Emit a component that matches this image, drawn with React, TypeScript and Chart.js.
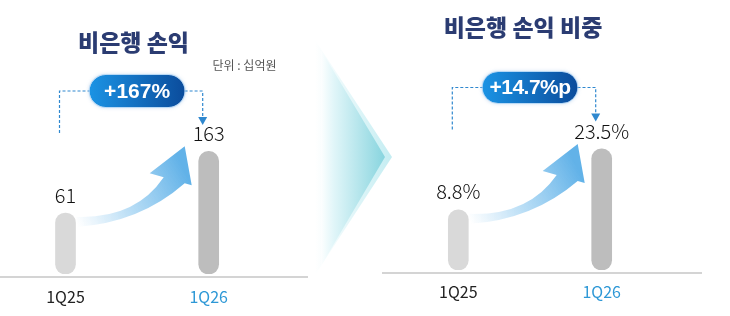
import React, { useEffect, useRef } from 'react';
import { Chart, registerables } from 'chart.js';

Chart.register(...registerables);

// ---- data ----
const quarters = ['1Q25', '1Q26'];
const profitValues = [61, 163];
const profitValueLabels = ['61', '163'];
const shareValues = [8.8, 23.5];
const shareValueLabels = ['8.8%', '23.5%'];
const profitTitle = '비은행 손익';
const shareTitle = '비은행 손익 비중';
const unitText = '단위 : 십억원';
const profitChange = '+167%';
const shareChange = '+14.7%p';

const KR = '"Noto Sans CJK KR", "Noto Sans", sans-serif';

type PanelSpec = {
  labels: string[];
  values: number[];
  valueLabels: string[];
  title: string;
  unit?: string;
  change: string;
  canvasLeft: number;
  canvasWidth: number;
  padding: { left: number; right: number; top: number; bottom: number };
  axisHeight: number;
  yMin: number;
  yMax: number;
  tickPadding: number;
  titlePos: [number, number];
  unitPos?: [number, number];
  badgeY: number;
  badgeW: number;
  badgeH: number;
  badgeFont: number;
  badgeSpacing: number;
  baseline: { x0: number; x1: number; y: number };
};

function roundRect(ctx: CanvasRenderingContext2D, x: number, y: number, w: number, h: number, r: number) {
  ctx.beginPath();
  ctx.moveTo(x + r, y);
  ctx.lineTo(x + w - r, y);
  ctx.arc(x + w - r, y + r, r, -Math.PI / 2, Math.PI / 2);
  ctx.lineTo(x + r, y + h);
  ctx.arc(x + r, y + r, r, Math.PI / 2, (3 * Math.PI) / 2);
  ctx.closePath();
}

function makePlugin(spec: PanelSpec) {
  return {
    id: 'decor',
    afterDatasetsDraw(chart: any) {
      const ctx: CanvasRenderingContext2D = chart.ctx;
      const off = spec.canvasLeft;
      const meta = chart.getDatasetMeta(0);
      const b1 = meta.data[0];
      const b2 = meta.data[1];
      const c1 = b1.x, t1 = b1.y, c2 = b2.x, t2 = b2.y;

      ctx.save();
      // baseline
      ctx.strokeStyle = '#c6c6c6';
      ctx.lineWidth = 1.5;
      ctx.beginPath();
      ctx.moveTo(spec.baseline.x0 - off, spec.baseline.y);
      ctx.lineTo(spec.baseline.x1 - off, spec.baseline.y);
      ctx.stroke();

      // curved gradient arrow
      const grad = ctx.createLinearGradient(c1 + 11, t1 + 10, c2 - 24, t2 + 20);
      grad.addColorStop(0, 'rgba(120,190,236,0)');
      grad.addColorStop(0.45, 'rgba(115,188,236,0.5)');
      grad.addColorStop(1, 'rgba(98,178,232,1)');
      ctx.fillStyle = grad;
      ctx.beginPath();
      ctx.moveTo(c1 + 11, t1 + 4);
      ctx.quadraticCurveTo(c1 + 70, t1 + 6, c2 - 45, t2 + 26);
      ctx.lineTo(c2 - 59, t2 + 22);
      ctx.lineTo(c2 - 24, t2 - 5);
      ctx.lineTo(c2 - 17, t2 + 34);
      ctx.lineTo(c2 - 24, t2 + 32);
      ctx.quadraticCurveTo(c1 + 74, t1 + 10, c1 + 11, t1 + 14);
      ctx.closePath();
      ctx.fill();

      // value labels
      ctx.fillStyle = '#111111';
      ctx.font = `300 20px ${KR}`;
      ctx.textAlign = 'center';
      ctx.textBaseline = 'middle';
      meta.data.forEach((b: any, i: number) => {
        ctx.fillText(spec.valueLabels[i], b.x, b.y - 18);
      });

      // title
      ctx.fillStyle = '#2b3c72';
      ctx.font = `900 23px ${KR}`;
      ctx.fillText(spec.title, spec.titlePos[0] - off, spec.titlePos[1]);

      // unit
      if (spec.unit && spec.unitPos) {
        ctx.fillStyle = '#555555';
        ctx.font = `400 12px ${KR}`;
        ctx.fillText(spec.unit, spec.unitPos[0] - off, spec.unitPos[1]);
      }

      // dashed connectors
      const bx = (c1 + c2) / 2;
      const by = spec.badgeY;
      const bl = bx - spec.badgeW / 2;
      const br = bx + spec.badgeW / 2;
      const x1 = c1 - 6;
      const x2 = c2 - 6;
      const tip = by + 34;
      ctx.strokeStyle = '#2f88cf';
      ctx.lineWidth = 1.2;
      ctx.setLineDash([3, 2]);
      ctx.beginPath();
      ctx.moveTo(x1, by + 42);
      ctx.lineTo(x1, by);
      ctx.lineTo(bl, by);
      ctx.moveTo(br, by);
      ctx.lineTo(x2, by);
      ctx.lineTo(x2, tip - 7);
      ctx.stroke();
      ctx.setLineDash([]);
      ctx.fillStyle = '#2f88cf';
      ctx.beginPath();
      ctx.moveTo(x2 - 4.5, tip - 8);
      ctx.lineTo(x2 + 4.5, tip - 8);
      ctx.lineTo(x2, tip);
      ctx.closePath();
      ctx.fill();

      // badge
      const bg = ctx.createLinearGradient(bl, 0, br, 0);
      bg.addColorStop(0, '#1b93e4');
      bg.addColorStop(1, '#0b4c9c');
      ctx.save();
      ctx.shadowColor = 'rgba(40,120,200,0.35)';
      ctx.shadowBlur = 4;
      roundRect(ctx, bl, by - spec.badgeH / 2, spec.badgeW, spec.badgeH, spec.badgeH / 2);
      ctx.fillStyle = bg;
      ctx.fill();
      ctx.restore();
      ctx.strokeStyle = 'rgba(170,210,245,0.7)';
      ctx.lineWidth = 1;
      roundRect(ctx, bl - 0.5, by - spec.badgeH / 2 - 0.5, spec.badgeW + 1, spec.badgeH + 1, spec.badgeH / 2 + 0.5);
      ctx.stroke();
      ctx.fillStyle = '#ffffff';
      ctx.font = `700 ${spec.badgeFont}px "Liberation Sans", Arial, sans-serif`;
      (ctx as any).letterSpacing = `${spec.badgeSpacing}px`;
      ctx.textAlign = 'center';
      ctx.textBaseline = 'middle';
      ctx.fillText(spec.change, bx, by + 1);
      (ctx as any).letterSpacing = '0px';
      ctx.restore();
    },
  };
}

function Panel({ spec }: { spec: PanelSpec }) {
  const ref = useRef<HTMLCanvasElement | null>(null);
  useEffect(() => {
    if (!ref.current) return;
    const chart = new Chart(ref.current, {
      type: 'bar',
      data: {
        labels: spec.labels,
        datasets: [
          {
            data: spec.values,
            base: spec.yMin,
            backgroundColor: ['#d9d9d9', '#bdbdbd'],
            borderRadius: 10,
            borderSkipped: false,
            barThickness: 20,
          } as any,
        ],
      },
      options: {
        responsive: false,
        animation: false,
        devicePixelRatio: 1,
        layout: { padding: spec.padding },
        plugins: { legend: { display: false }, tooltip: { enabled: false }, title: { display: false } },
        scales: {
          x: {
            grid: { display: false, drawTicks: false },
            border: { display: false },
            afterFit: (scale: any) => {
              scale.height = spec.axisHeight;
            },
            ticks: {
              padding: spec.tickPadding,
              font: { family: KR, size: 16 },
              color: (c: any) => (c.index === 1 ? '#2e98d6' : '#222222'),
            },
          },
          y: {
            display: false,
            min: spec.yMin,
            max: spec.yMax,
          },
        },
      },
      plugins: [makePlugin(spec)],
    });
    return () => chart.destroy();
  }, [spec]);
  return (
    <div style={{ position: 'absolute', left: spec.canvasLeft, top: 0, width: spec.canvasWidth, height: 316 }}>
      <canvas ref={ref} width={spec.canvasWidth} height={316} style={{ display: 'block' }} />
    </div>
  );
}

const leftSpec: PanelSpec = {
  labels: quarters,
  values: profitValues,
  valueLabels: profitValueLabels,
  title: profitTitle,
  unit: unitText,
  change: profitChange,
  canvasLeft: -10,
  canvasWidth: 320,
  padding: { left: 3.9, right: 29.7, top: 68.6, bottom: 0 },
  axisHeight: 42,
  yMin: -40,
  yMax: 300,
  tickPadding: 13,
  titlePos: [133.5, 42],
  unitPos: [244.5, 65],
  badgeY: 91,
  badgeW: 95,
  badgeH: 32,
  badgeFont: 21,
  badgeSpacing: 0,
  baseline: { x0: 0, x1: 308, y: 277 },
};

const rightSpec: PanelSpec = {
  labels: quarters,
  values: shareValues,
  valueLabels: shareValueLabels,
  title: shareTitle,
  change: shareChange,
  canvasLeft: 380,
  canvasWidth: 350,
  padding: { left: 6.6, right: 56.6, top: 80.5, bottom: 0 },
  axisHeight: 46,
  yMin: -5.7,
  yMax: 40,
  tickPadding: 12,
  titlePos: [523, 27],
  badgeY: 87.5,
  badgeW: 95,
  badgeH: 31,
  badgeFont: 21,
  badgeSpacing: -0.5,
  baseline: { x0: 382, x1: 702, y: 273 },
};

function Chevron() {
  return (
    <svg width={730} height={316} style={{ position: 'absolute', left: 0, top: 0, pointerEvents: 'none' }}>
      <defs>
        <linearGradient id="chevOuter" x1="315" y1="0" x2="392" y2="0" gradientUnits="userSpaceOnUse">
          <stop offset="0" stopColor="#ffffff" stopOpacity="1" />
          <stop offset="1" stopColor="#c4edf2" stopOpacity="1" />
        </linearGradient>
        <linearGradient id="chevInner" x1="320" y1="0" x2="386" y2="0" gradientUnits="userSpaceOnUse">
          <stop offset="0" stopColor="#ffffff" stopOpacity="1" />
          <stop offset="0.2" stopColor="#e2f6f9" stopOpacity="1" />
          <stop offset="1" stopColor="#86d4de" stopOpacity="1" />
        </linearGradient>
      </defs>
      <polygon points="315,40 392,157 315,275" fill="url(#chevOuter)" />
      <polygon points="321,50 385,157 321,266" fill="url(#chevInner)" />
    </svg>
  );
}

if (typeof document !== 'undefined') {
  document.body.style.margin = '0';
}

export default function App() {
  return (
    <div style={{ position: 'relative', width: 730, height: 316, overflow: 'hidden', background: '#ffffff' }}>
      <Chevron />
      <Panel spec={leftSpec} />
      <Panel spec={rightSpec} />
    </div>
  );
}
